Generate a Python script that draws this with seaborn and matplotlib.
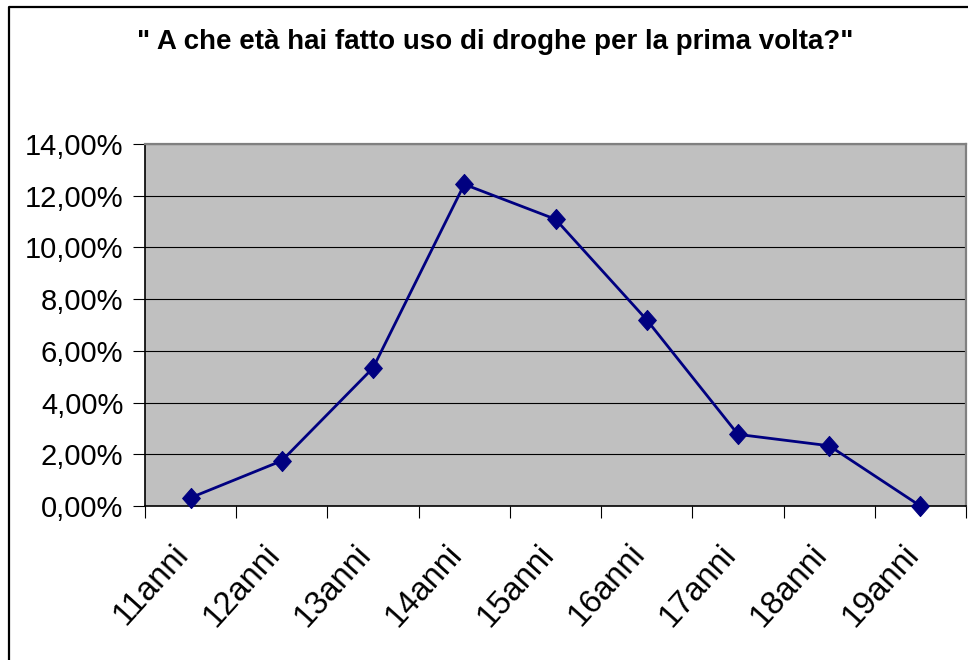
import matplotlib
matplotlib.use("Agg")
import matplotlib.pyplot as plt
from matplotlib.lines import Line2D
from matplotlib.path import Path
from matplotlib.ticker import FixedLocator, FuncFormatter, NullFormatter
from matplotlib.transforms import ScaledTranslation
import seaborn as sns
import pandas as pd

# ---- data ----
categories = ["11anni", "12anni", "13anni", "14anni", "15anni",
              "16anni", "17anni", "18anni", "19anni"]
percentages = [0.32, 1.75, 5.34, 12.44, 11.09, 7.20, 2.77, 2.33, 0.00]
title_text = '" A che età hai fatto uso di droghe per la prima volta?"'
y_ticks = [0, 2, 4, 6, 8, 10, 12, 14]

df = pd.DataFrame({"eta": categories, "pct": percentages})

sns.set_theme(style="white")
plt.rcParams["font.family"] = ["Liberation Sans", "DejaVu Sans"]

W, H = 968, 660
fig = plt.figure(figsize=(W / 100, H / 100), dpi=100)
fig.patch.set_facecolor("white")
ax = fig.add_axes([145 / W, 1 - 506 / H, (966 - 145) / W, (506 - 144) / H])
ax.set_facecolor("#C0C0C0")

diamond = Path([(0, 1), (0.88, 0), (0, -1), (-0.88, 0), (0, 1)],
               [Path.MOVETO, Path.LINETO, Path.LINETO, Path.LINETO, Path.CLOSEPOLY])

sns.lineplot(data=df, x="eta", y="pct", ax=ax, color="#000080", linewidth=2.0,
             marker=diamond, markersize=14.5, markeredgecolor="#000080",
             markerfacecolor="#000080", sort=False, zorder=5, clip_on=False)

n = len(categories)
ax.set_xlim(-0.5, n - 0.5)
ax.set_ylim(0, 14)

# gridlines
for v in y_ticks[1:]:
    ax.axhline(v, color="black", linewidth=0.8, zorder=1)

# y axis
ax.yaxis.set_major_locator(FixedLocator(y_ticks))
ax.yaxis.set_major_formatter(FuncFormatter(lambda v, p: f"{v:.2f}".replace(".", ",") + "%"))
ax.tick_params(axis="y", which="major", direction="out", length=8.5, width=0.8,
               color="black", labelsize=21, pad=7, left=True, labelcolor="black")

# x axis: ticks at boundaries, labels at centers
ax.xaxis.set_major_locator(FixedLocator([i - 0.5 for i in range(n + 1)]))
ax.xaxis.set_major_formatter(NullFormatter())
ax.set_xticks(list(range(n)), minor=True)
ax.set_xticklabels(categories, minor=True, rotation=48, ha="right", va="center",
                   rotation_mode="anchor", fontsize=23.5, color="black")
ax.tick_params(axis="x", which="major", direction="out", length=8.5, width=0.8,
               color="black", bottom=True)
ax.tick_params(axis="x", which="minor", length=0, pad=31, bottom=True)
shift = ScaledTranslation(-7 / 100, 0, fig.dpi_scale_trans)
for lab in ax.get_xticklabels(minor=True):
    lab.set_transform(lab.get_transform() + shift)

ax.set_xlabel("")
ax.set_ylabel("")

for side in ["left", "bottom"]:
    ax.spines[side].set_color("black")
    ax.spines[side].set_linewidth(1.2)
for side in ["top", "right"]:
    ax.spines[side].set_color("#808080")
    ax.spines[side].set_linewidth(1.6)
    ax.spines[side].set_visible(True)

# title
fig.text(495 / W, 1 - 42 / H, title_text, ha="center", va="center",
         fontsize=20, fontweight="bold", color="black",
         family=["Liberation Sans", "DejaVu Sans"])

# chart area border (left and top only visible)
fig.add_artist(Line2D([8.5 / W, 8.5 / W, 1.0], [0.0, 1 - 7 / H, 1 - 7 / H],
                      transform=fig.transFigure, color="black", linewidth=1.6))

fig.savefig("out.png", dpi=100, facecolor="white")
